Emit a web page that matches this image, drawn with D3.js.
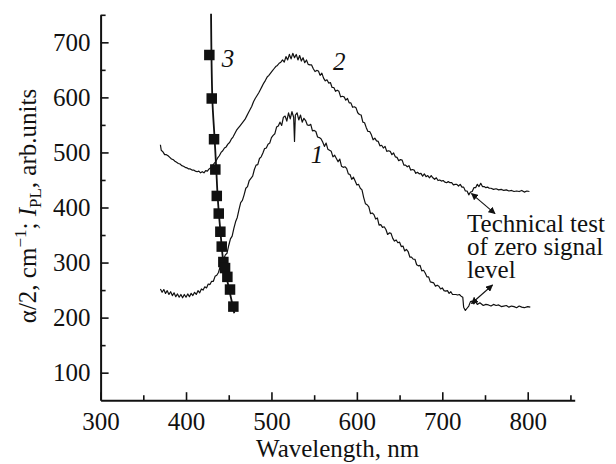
<!DOCTYPE html>
<html><head><meta charset="utf-8">
<script src="https://cdn.jsdelivr.net/npm/d3@7"></script>
<style>
html,body{margin:0;padding:0;background:#fff;}
svg{display:block;}
svg text{font-family:"Liberation Serif","DejaVu Serif",serif !important;fill:#111;}
</style></head>
<body>
<svg id="chart" width="616" height="464"></svg>
<script>
// ---- data ----
const xMajorTicks = [300, 400, 500, 600, 700, 800];
const xMinorTicks = [350, 450, 550, 650, 750, 850];
const yMajorTicks = [100, 200, 300, 400, 500, 600, 700];
const yMinorTicks = [150, 250, 350, 450, 550, 650, 750];

// curve 1 (PL, lower)  [wavelength nm, value]
const curve1 = [
[370,252],[372,246],[374,251],[376,244],[378,249],[380,242],[382,247],[384,240],[386,245],[388,238],
[390,243],[392,237],[394,242],[396,236],[398,242],[400,237],[402,243],[404,238],[406,244],[408,240],
[410,246],[412,242],[414,249],[416,245],[418,252],[420,250],[422,256],[424,254],[426,261],[428,260],
[430,266],[432,266],[434,275],[436,277],[438,282],[440,293],[442,295],[444,305],[446,314],[448,317],
[450,331],[452,343],[454,348],[456,362],[458,374],[460,382],[462,396],[464,409],[466,413],[468,423],
[470,435],[472,438],[474,449],[476,453],[478,457],[480,469],[482,477],[484,478],[486,489],[488,492],
[490,499],[492,507],[494,508],[496,515],[498,517],[500,527],[502,531],[504,534],[506,546],[508,548],
[510,555],[512,549],[514,564],[516,566],[518,557],[520,572],[522,561],[524,574],[526,564],[527,520],
[528,568],[530,572],[532,559],[534,568],[536,555],[538,562],
[540,558],[542,550],[544,549],[546,551],[548,539],[550,540],[552,538],[554,528],[556,527],[558,525],
[560,519],[562,511],[564,517],[566,506],[568,504],[570,502],[572,492],[574,495],[576,489],[578,483],
[580,488],[582,475],[584,473],[586,474],[588,471],[590,461],[592,460],[594,451],[596,455],[598,448],
[600,441],[602,442],[604,435],[606,432],[608,418],[610,407],[612,405],[614,401],[616,389],[618,390],
[620,387],[622,379],[624,381],[626,368],[628,369],[630,364],[632,365],[634,360],[636,351],[638,354],
[640,353],[642,344],[644,339],[646,341],[648,336],[650,337],[652,329],[654,330],[656,321],[658,324],
[660,320],[662,310],[664,310],[666,306],[668,306],[670,296],[672,294],[674,295],[676,285],[678,286],
[680,281],[682,274],[684,274],[686,265],[688,264],[690,263],[692,257],[694,259],[696,257],[698,252],
[700,254],[702,249],[704,248],[706,249],[708,244],[710,247],[712,242],[714,242],[716,242],[718,241],
[720,242],[722,239],[724,237],[725,219],[727,213],[729,217],[731,221],[733,229],[735,230],[737,225],
[739,229],[741,224],[744,227],[748,222],[751,224],[754,223],[757,221],[760,224],[763,222],[766,223],
[769,220],[772,221],[775,222],[778,219],[781,221],[784,220],[787,218],[790,221],[793,219],[796,218],
[800,220],[803,219]
];

// curve 2 (PL, upper)
const curve2 = [
[370,514],[371,504],[373,501],[375,496],[377,496],[379,494],[381,491],[383,488],[385,487],[387,484],
[389,482],[391,480],[393,479],[395,476],[397,475],[399,473],[401,472],[403,470],[405,470],[407,468],
[409,468],[411,466],[413,465],[415,466],[417,463],[419,465],[421,463],[423,467],[425,466],[427,470],
[429,472],[431,476],[433,480],[435,484],[437,490],[439,494],[441,500],[443,503],[445,508],[447,510],
[449,515],[451,518],[453,524],[455,528],[457,534],[459,540],[461,544],[463,548],[465,552],[467,556],
[469,560],[471,566],[473,572],[475,578],[477,584],[479,592],[481,598],[483,603],[485,608],[487,614],
[489,620],[491,626],[493,631],[495,637],[497,640],[499,644],[501,648],[503,652],[505,656],[507,658],
[509,662],[511,664],[513,668],[515,664],[517,674],[519,668],[521,678],[523,670],[525,680],[527,672],
[529,678],[531,668],[533,676],[535,666],
[537,672],[539,663],[541,668],[543,660],[545,659],[547,659],[549,652],[551,647],[553,649],[555,648],
[557,640],[559,644],[561,635],[563,630],[565,632],[567,626],[569,627],[571,618],[573,618],[575,611],
[577,613],[579,611],[581,601],[583,602],[585,601],[587,595],[589,598],[591,590],[593,590],[595,582],
[597,583],[599,581],[601,572],[603,569],[605,568],[607,555],[609,554],[611,545],[613,538],[615,538],
[617,532],[619,523],[621,526],[623,521],[625,520],[627,512],[629,513],[631,508],[633,511],[635,502],
[637,503],[639,502],[641,496],[643,499],[645,492],[647,491],[649,485],[651,487],[653,486],[655,477],
[657,477],[659,474],[661,476],[663,468],[665,469],[667,468],[669,462],[671,464],[673,461],[675,462],
[677,457],[679,461],[681,456],[683,458],[685,454],[687,458],[689,454],[691,451],[693,454],[695,449],
[697,450],[699,448],[701,449],[703,446],[705,445],[707,447],[709,445],[711,445],[713,441],[715,442],
[717,442],[719,439],[721,442],[723,437],[725,437],[727,430],
[729,430],[731,423],[733,428],[735,429],[737,436],[739,436],[741,442],[743,438],[745,444],[747,438],
[749,438],[751,436],[753,437],[755,435],[757,435],[760,433],[763,434],[766,432],[769,433],[772,431],
[775,432],[778,430],[781,431],[784,429],[787,430],[790,429],[793,431],[796,428],[799,430],[802,429]
];

// curve 3 (absorption, squares) points
const squares3 = [
[427.3,677],[430.1,598],[432.8,524],[434.3,469],[436.0,421],[438.3,389],[440.2,356],
[441.8,329],[443.7,301],[445.7,290],[448.4,274],[451.5,251],[455.4,220]
];
// fitted line of curve 3
const line3 = [
[429.3,752],[430.8,598],[433.5,524],[435.4,470],[437.0,421],[440.3,356],[443.9,300],[449.0,262],[456.5,208]
];

const curveLabels = [
  {text:"1", x:546, y:480},
  {text:"2", x:572, y:650},
  {text:"3", x:441.8, y:655}
];
const noteLines = ["Technical test", "of zero signal", "level"];
const noteAnchor = {x:729, y:355.7};
const arrows = [
  {x1:734.2, y1:425.3, x2:761.7, y2:389},
  {x1:734.2, y1:225.6, x2:758.8, y2:259.2}
];

// ---- drawing ----
const FONT = '"Liberation Serif","DejaVu Serif",serif';
const svg = d3.select("#chart");
const x = d3.scaleLinear().domain([300, 855]).range([100.6, 574.7]);
const y = d3.scaleLinear().domain([50, 750]).range([400.2, 14.8]);
const FS = 25;

const defs = svg.append("defs");
["end","start"].forEach(k=>{
  defs.append("marker").attr("id","ah-"+k)
    .attr("viewBox","0 0 10 10").attr("refX", 9).attr("refY",5)
    .attr("markerWidth",7).attr("markerHeight",7).attr("markerUnits","userSpaceOnUse")
    .attr("orient", k==="end"?"auto":"auto-start-reverse")
    .append("path").attr("d","M0,0 L10,5 L0,10 z").attr("fill","#111");
});

// axes
const gx = svg.append("g").attr("transform",`translate(0,${y(50)})`)
  .call(d3.axisBottom(x).tickValues(xMajorTicks).tickSize(-8).tickSizeOuter(0).tickPadding(12).tickFormat(d3.format("d")));
svg.append("g").attr("transform",`translate(0,${y(50)})`)
  .call(d3.axisBottom(x).tickValues(xMinorTicks).tickSize(-5).tickSizeOuter(0).tickFormat(""))
  .select(".domain").remove();
const gy = svg.append("g").attr("transform",`translate(${x(300)},0)`)
  .call(d3.axisLeft(y).tickValues(yMajorTicks).tickSize(-8).tickSizeOuter(0).tickPadding(10).tickFormat(d3.format("d")));
svg.append("g").attr("transform",`translate(${x(300)},0)`)
  .call(d3.axisLeft(y).tickValues(yMinorTicks).tickSize(-5).tickSizeOuter(0).tickFormat(""))
  .select(".domain").remove();

svg.selectAll("g").attr("font-family", FONT);
svg.selectAll(".domain").attr("stroke","#111").attr("stroke-width",2);
svg.selectAll(".tick line").attr("stroke","#111").attr("stroke-width",1.6);
svg.selectAll(".tick text").attr("font-size",FS).style("font-family",FONT).attr("fill","#111");
gy.selectAll(".tick text").attr("dy","0.33em");

// axis titles
svg.append("text").attr("x", (x(300)+x(855))/2).attr("y",457)
  .attr("text-anchor","middle").attr("font-size",FS).style("font-family",FONT).text("Wavelength, nm");

const yt = svg.append("text").attr("transform",`translate(36,206) rotate(-90)`)
  .attr("text-anchor","middle").attr("font-size",FS).style("font-family",FONT);
yt.append("tspan").text("α/2, cm");
yt.append("tspan").attr("font-size",17).attr("dy",-10).text("−1");
yt.append("tspan").attr("dy",10).text("; ");
yt.append("tspan").attr("font-style","italic").text("I");
yt.append("tspan").attr("font-size",17).attr("dy",5).text("PL");
yt.append("tspan").attr("dy",-5).text(", arb.units");

// curves
const lineGen = d3.line().x(d=>x(d[0])).y(d=>y(d[1]));
svg.append("path").datum(curve1).attr("d",lineGen).attr("fill","none").attr("stroke","#111").attr("stroke-width",1.2).attr("stroke-linejoin","round");
svg.append("path").datum(curve2).attr("d",lineGen).attr("fill","none").attr("stroke","#111").attr("stroke-width",1.2).attr("stroke-linejoin","round");
svg.append("path").datum(line3).attr("d",d3.line().curve(d3.curveMonotoneY).x(d=>x(d[0])).y(d=>y(d[1])))
  .attr("fill","none").attr("stroke","#111").attr("stroke-width",1.8);
const SQ = 10.5;
svg.append("g").selectAll("rect").data(squares3).join("rect")
  .attr("x",d=>x(d[0])-SQ/2).attr("y",d=>y(d[1])-SQ/2).attr("width",SQ).attr("height",SQ).attr("fill","#111");

// curve labels
svg.append("g").selectAll("text").data(curveLabels).join("text")
  .attr("x",d=>x(d.x)).attr("y",d=>y(d.y)).attr("font-size",FS).attr("font-style","italic")
  .style("font-family",FONT).text(d=>d.text);

// note
svg.append("g").selectAll("text").data(noteLines).join("text")
  .attr("x",x(noteAnchor.x)).attr("y",(d,i)=>y(noteAnchor.y)+i*23).attr("font-size",FS)
  .style("font-family",FONT).text(d=>d);
svg.append("g").selectAll("line").data(arrows).join("line")
  .attr("x1",d=>x(d.x1)).attr("y1",d=>y(d.y1)).attr("x2",d=>x(d.x2)).attr("y2",d=>y(d.y2))
  .attr("stroke","#111").attr("stroke-width",1.1)
  .attr("marker-end","url(#ah-end)").attr("marker-start","url(#ah-start)");
</script>
</body></html>
